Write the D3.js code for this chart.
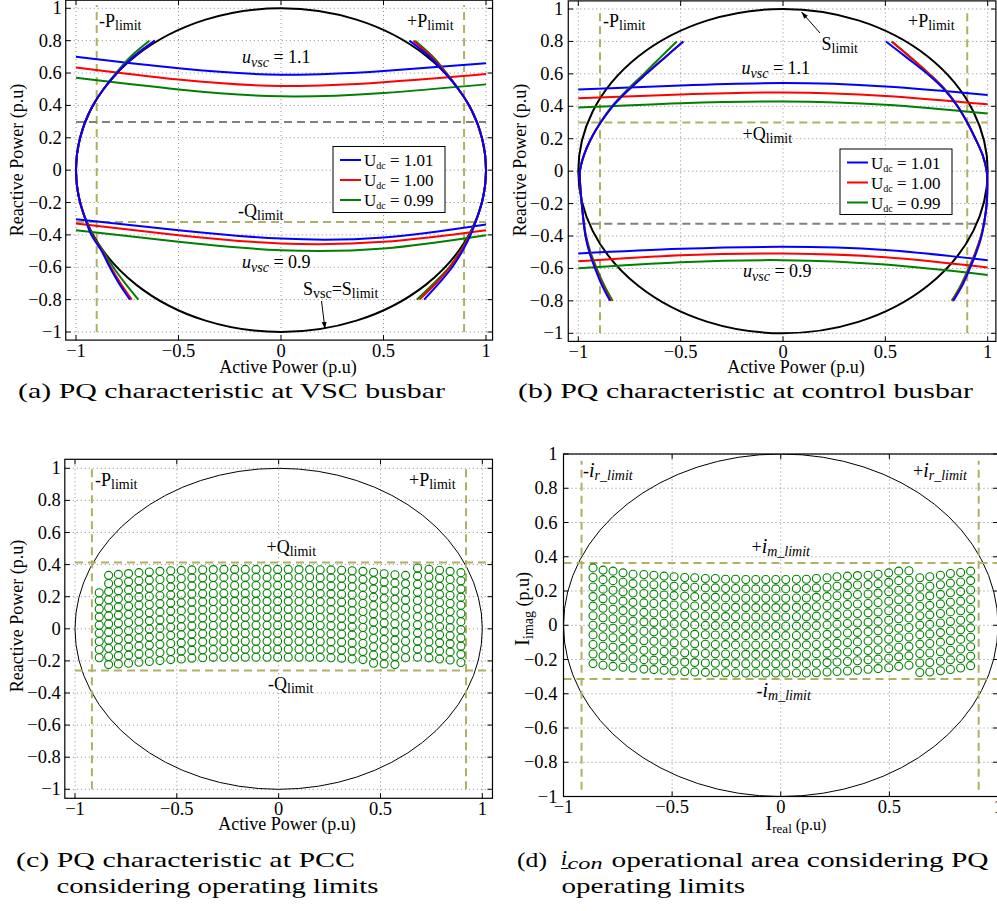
<!DOCTYPE html>
<html><head><meta charset="utf-8">
<script src="https://cdn.jsdelivr.net/npm/d3@7/dist/d3.min.js"></script>
<style>
body{margin:0;background:#fff}
svg{display:block}
text{font-family:"Liberation Serif","Times New Roman",serif;fill:#000}
</style></head>
<body><svg id="chart" width="997" height="911"></svg>
<script>
// ================= DATA =================
const tickP = [-1, -0.5, 0, 0.5, 1];
const tickPLabels = ["\u22121", "\u22120.5", "0", "0.5", "1"];
const tickQ = [-1, -0.8, -0.6, -0.4, -0.2, 0, 0.2, 0.4, 0.6, 0.8, 1];
const tickQLabels = ["\u22121", "\u22120.8", "\u22120.6", "\u22120.4", "\u22120.2", "0", "0.2", "0.4", "0.6", "0.8", "1"];
const udcLabels = ["1.01", "1.00", "0.99"];

// u_vsc curves, sampled at these active-power values
const pSample = [-1, -0.5, 0, 0.5, 1];
// panel (a) VSC busbar
const aHi101 = [0.70, 0.629, 0.589, 0.612, 0.66];
const aHi100 = [0.635, 0.56, 0.52, 0.543, 0.594];
const aHi099 = [0.571, 0.499, 0.456, 0.477, 0.53];
const aLo101 = [-0.303, -0.371, -0.423, -0.416, -0.336];
const aLo100 = [-0.33, -0.402, -0.453, -0.443, -0.371];
const aLo099 = [-0.371, -0.443, -0.495, -0.484, -0.402];
// panel (b) control busbar
const bHi101 = [0.503, 0.528, 0.543, 0.522, 0.47];
const bHi100 = [0.45, 0.472, 0.485, 0.464, 0.412];
const bHi099 = [0.392, 0.419, 0.429, 0.409, 0.355];
const bLo101 = [-0.508, -0.479, -0.467, -0.487, -0.549];
const bLo100 = [-0.555, -0.518, -0.508, -0.531, -0.594];
const bLo099 = [-0.599, -0.562, -0.549, -0.576, -0.64];

// side curves, sampled at these reactive-power values
const qSide = [0.8, 0.7, 0.6, 0.5, 0.4, 0.3, 0.2, 0.1, 0, -0.1, -0.2, -0.3, -0.4, -0.5, -0.6, -0.7, -0.8];
const aLeft101  = [-0.615,-0.72,-0.80,-0.866,-0.918,-0.955,-0.98,-0.995,-1.0,-0.995,-0.98,-0.955,-0.925,-0.875,-0.835,-0.79,-0.737];
const aLeft100  = [-0.615,-0.72,-0.80,-0.866,-0.918,-0.955,-0.98,-0.995,-1.0,-0.995,-0.98,-0.955,-0.923,-0.872,-0.83,-0.782,-0.728];
const aLeft099  = [-0.642,-0.735,-0.805,-0.866,-0.918,-0.955,-0.98,-0.995,-1.0,-0.995,-0.98,-0.955,-0.92,-0.868,-0.818,-0.76,-0.696];
const aRight101 = [0.626,0.725,0.80,0.866,0.918,0.955,0.98,0.995,1.0,0.995,0.98,0.955,0.925,0.885,0.835,0.77,0.698];
const aRight100 = [0.645,0.735,0.805,0.866,0.918,0.955,0.98,0.995,1.0,0.995,0.98,0.955,0.922,0.878,0.825,0.755,0.675];
const aRight099 = [0.654,0.742,0.808,0.866,0.918,0.955,0.98,0.995,1.0,0.995,0.98,0.955,0.92,0.875,0.82,0.745,0.662];
const bLeft101  = [-0.487,-0.578,-0.668,-0.755,-0.832,-0.891,-0.938,-0.972,-0.992,-0.99,-0.983,-0.975,-0.965,-0.946,-0.918,-0.886,-0.845];
const bLeft100  = [-0.487,-0.578,-0.669,-0.756,-0.833,-0.891,-0.938,-0.972,-0.992,-0.99,-0.983,-0.975,-0.964,-0.944,-0.915,-0.882,-0.84];
const bLeft099  = [-0.519,-0.600,-0.680,-0.762,-0.836,-0.892,-0.938,-0.972,-0.992,-0.99,-0.983,-0.975,-0.962,-0.94,-0.91,-0.875,-0.832];
const bRight101 = [0.503,0.605,0.705,0.79,0.852,0.90,0.94,0.975,0.995,0.998,0.995,0.985,0.97,0.945,0.913,0.878,0.832];
const bRight100 = [0.531,0.624,0.713,0.793,0.853,0.90,0.94,0.975,0.995,0.998,0.995,0.985,0.968,0.942,0.91,0.875,0.828];
const bRight099 = [0.531,0.626,0.715,0.795,0.854,0.90,0.94,0.975,0.995,0.998,0.995,0.985,0.967,0.94,0.906,0.87,0.824];

// operating limits [Pmin, Pmax, Qmax, Qmin]
const limA = [-0.899, 0.893, 0.297, -0.32];
const limB = [-0.894, 0.90, 0.30, -0.324];
const limC = [-0.917, 0.92, 0.4125, -0.26];
const limD = [-0.917, 0.911, 0.364, -0.314];

// panel (c) operating points: columns of circles
const cColP   = [-0.881,-0.835,-0.787,-0.737,-0.686,-0.635,-0.583,-0.530,-0.478,-0.426,-0.373,-0.321,-0.269,-0.216,-0.164,-0.111,-0.057,-0.005,0.047,0.100,0.152,0.204,0.257,0.309,0.361,0.414,0.466,0.518,0.571,0.623,0.682,0.738,0.790,0.842,0.895];
const cColTop = [0.225,0.333,0.339,0.344,0.35,0.354,0.358,0.362,0.364,0.367,0.368,0.369,0.37,0.37,0.37,0.37,0.37,0.37,0.37,0.369,0.369,0.368,0.367,0.365,0.362,0.358,0.352,0.343,0.337,0.333,0.379,0.371,0.365,0.358,0.35];
const cColBot = [-0.18,-0.223,-0.219,-0.215,-0.208,-0.204,-0.198,-0.192,-0.188,-0.183,-0.18,-0.178,-0.177,-0.177,-0.177,-0.177,-0.177,-0.177,-0.177,-0.177,-0.177,-0.178,-0.18,-0.183,-0.188,-0.192,-0.215,-0.219,-0.223,-0.18,-0.177,-0.181,-0.188,-0.194,-0.21];
const cRowStep = 0.05;
// panel (d) operating points
const dColI   = [-0.864,-0.818,-0.772,-0.726,-0.680,-0.630,-0.584,-0.537,-0.491,-0.442,-0.396,-0.347,-0.301,-0.254,-0.208,-0.161,-0.115,-0.069,-0.023,0.023,0.072,0.118,0.164,0.213,0.259,0.307,0.353,0.402,0.448,0.497,0.543,0.590,0.640,0.686,0.735,0.781,0.828,0.874];
const dColTop = [0.335,0.322,0.316,0.306,0.298,0.296,0.292,0.287,0.283,0.279,0.277,0.273,0.273,0.269,0.269,0.267,0.267,0.267,0.267,0.267,0.269,0.269,0.273,0.277,0.283,0.287,0.29,0.292,0.298,0.306,0.316,0.318,0.277,0.283,0.292,0.302,0.308,0.316];
const dColBot = [-0.224,-0.234,-0.24,-0.245,-0.25,-0.256,-0.259,-0.263,-0.267,-0.27,-0.273,-0.275,-0.277,-0.277,-0.279,-0.279,-0.279,-0.279,-0.279,-0.279,-0.279,-0.279,-0.277,-0.273,-0.27,-0.267,-0.263,-0.257,-0.253,-0.248,-0.24,-0.234,-0.276,-0.273,-0.266,-0.258,-0.25,-0.236];
const dRowStep = 0.055;

// ================= DRAWING =================
const svg = d3.select("#chart");
const OLIVE = "#b0b064", GREYD = "#808080";
const COLORS = ["#0000ff", "#ff0000", "#008000"];
const TICKFS = 18.5;

const defs = svg.append("defs");
defs.append("marker").attr("id","arrow").attr("viewBox","0 0 10 10").attr("refX",10).attr("refY",5)
  .attr("markerWidth",7).attr("markerHeight",7).attr("orient","auto-start-reverse")
  .append("path").attr("d","M0,1.5 L10,5 L0,8.5 Z").attr("fill","#000");

function rich(g, x, y, parts, size, anchor) {
  const t = g.append("text").attr("x", x).attr("y", y).attr("font-size", size || 18);
  if (anchor) t.attr("text-anchor", anchor);
  let shift = 0;
  parts.forEach(p => {
    const ts = t.append("tspan").text(p.t);
    const target = p.sub ? (p.dy || 4) : 0;
    if (target !== shift) ts.attr("dy", target - shift);
    shift = target;
    if (p.sub) ts.attr("font-size", p.size || 13);
    else if (p.size) ts.attr("font-size", p.size);
    if (p.it) ts.attr("font-style", "italic");
  });
  return t;
}

function panel(cfg) {
  const x = d3.scaleLinear().domain([-1, 1]).range(cfg.xr);
  const y = d3.scaleLinear().domain([-1, 1]).range(cfg.yr);
  const X0 = x(cfg.bx[0]), X1 = x(cfg.bx[1]), Y0 = y(cfg.by[0]), Y1 = y(cfg.by[1]);
  const g = svg.append("g");
  defs.append("clipPath").attr("id", "clip" + cfg.name).append("rect")
    .attr("x", X0).attr("y", Y1).attr("width", X1 - X0).attr("height", Y0 - Y1);
  // grid
  g.selectAll(".gv").data(tickP).join("line").attr("x1", d => x(d)).attr("x2", d => x(d))
    .attr("y1", Y0).attr("y2", Y1).attr("stroke", "#8a8a8a").attr("stroke-width", 1).attr("stroke-dasharray", "1,3");
  g.selectAll(".gh").data(tickQ).join("line").attr("y1", d => y(d)).attr("y2", d => y(d))
    .attr("x1", X0).attr("x2", X1).attr("stroke", "#8a8a8a").attr("stroke-width", 1).attr("stroke-dasharray", "1,3");
  // ticks inside
  const tl = 5;
  tickP.forEach(d => {
    g.append("line").attr("x1", x(d)).attr("x2", x(d)).attr("y1", Y0).attr("y2", Y0 - tl).attr("stroke", "#000");
    g.append("line").attr("x1", x(d)).attr("x2", x(d)).attr("y1", Y1).attr("y2", Y1 + tl).attr("stroke", "#000");
  });
  tickQ.forEach(d => {
    g.append("line").attr("y1", y(d)).attr("y2", y(d)).attr("x1", X0).attr("x2", X0 + tl).attr("stroke", "#000");
    g.append("line").attr("y1", y(d)).attr("y2", y(d)).attr("x1", X1).attr("x2", X1 - tl).attr("stroke", "#000");
  });
  // tick labels
  g.selectAll(".xl").data(tickP).join("text").attr("x", d => x(d)).attr("y", cfg.xlabY)
    .attr("text-anchor", "middle").attr("font-size", TICKFS).text((d, i) => tickPLabels[i]);
  g.selectAll(".yl").data(tickQ).join("text").attr("x", X0 - cfg.ylabGap).attr("y", d => y(d) + 6)
    .attr("text-anchor", "end").attr("font-size", TICKFS).text((d, i) => tickQLabels[i]);
  const plot = g.append("g").attr("clip-path", "url(#clip" + cfg.name + ")");
  return { x, y, g, plot, X0, X1, Y0, Y1 };
}

function limits(P, lim, vSpan, hSpan, hColors) {
  const dash = "8,5";
  [lim[0], lim[1]].forEach(v => {
    P.plot.append("line").attr("x1", P.x(v)).attr("x2", P.x(v)).attr("y1", P.y(vSpan[0])).attr("y2", P.y(vSpan[1]))
      .attr("stroke", OLIVE).attr("stroke-width", 2).attr("stroke-dasharray", dash);
  });
  [lim[2], lim[3]].forEach((v, i) => {
    P.plot.append("line").attr("y1", P.y(v)).attr("y2", P.y(v)).attr("x1", P.x(hSpan[0])).attr("x2", P.x(hSpan[1]))
      .attr("stroke", hColors[i]).attr("stroke-width", 2).attr("stroke-dasharray", dash);
  });
}

function frame(P) {
  P.g.append("rect").attr("x", P.X0).attr("y", P.Y1).attr("width", P.X1 - P.X0).attr("height", P.Y0 - P.Y1)
    .attr("fill", "none").attr("stroke", "#000").attr("stroke-width", 1.2);
}

function unitCircle(P, w) {
  P.plot.append("ellipse").attr("cx", P.x(0)).attr("cy", P.y(0))
    .attr("rx", P.x(1) - P.x(0)).attr("ry", P.y(0) - P.y(1))
    .attr("fill", "none").attr("stroke", "#000").attr("stroke-width", w);
}

function hCurves(P, sets) {
  const line = d3.line().x(d => P.x(d[0])).y(d => P.y(d[1])).curve(d3.curveNatural);
  sets.slice().reverse().forEach((s, i) => {
    const ci = sets.length - 1 - i;
    P.plot.append("path").attr("d", line(pSample.map((p, k) => [p, s[k]])))
      .attr("fill", "none").attr("stroke", COLORS[ci % 3]).attr("stroke-width", 2);
  });
}
function sCurves(P, sets) {
  const line = d3.line().x(d => P.x(d[0])).y(d => P.y(d[1])).curve(d3.curveCatmullRom);
  sets.slice().reverse().forEach((s, i) => {
    const ci = sets.length - 1 - i;
    P.plot.append("path").attr("d", line(qSide.map((q, k) => [s[k], q])))
      .attr("fill", "none").attr("stroke", COLORS[ci % 3]).attr("stroke-width", 2);
  });
}

function legend(P, x0, y0, w, h) {
  const lg = P.g.append("g");
  lg.append("rect").attr("x", x0).attr("y", y0).attr("width", w).attr("height", h)
    .attr("fill", "#fff").attr("stroke", "#000").attr("stroke-width", 1);
  udcLabels.forEach((lab, i) => {
    const yy = y0 + 13.5 + i * 20;
    lg.append("line").attr("x1", x0 + 7).attr("x2", x0 + 28).attr("y1", yy).attr("y2", yy)
      .attr("stroke", COLORS[i]).attr("stroke-width", 2);
    rich(lg, x0 + 31, yy + 6, [{ t: "U" }, { t: "dc", sub: true, size: 10, dy: 3 }, { t: " = " + lab }], 17);
  });
}

// ---------- Panel (a) ----------
const A = panel({ name: "A", xr: [76, 486], yr: [332, 8.3], bx: [-1.05, 1.032], by: [-1.05, 1.05], xlabY: 357, ylabGap: 4 });
limits(A, limA, [-1, 1.02], [-1, 1], [GREYD, OLIVE]);
unitCircle(A, 2);
hCurves(A, [aHi101, aHi100, aHi099]);
hCurves(A, [aLo101, aLo100, aLo099]);
sCurves(A, [aLeft101, aLeft100, aLeft099]);
sCurves(A, [aRight101, aRight100, aRight099]);
frame(A);
legend(A, 333, 146.5, 112, 66);
rich(A.g, 99, 27, [{ t: "-P" }, { t: "limit", sub: true, size: 14, dy: 3 }]);
rich(A.g, 407, 27, [{ t: "+P" }, { t: "limit", sub: true, size: 14, dy: 3 }]);
rich(A.g, 242, 63, [{ t: "u", it: true }, { t: "vsc", it: true, sub: true, size: 14 }, { t: " = 1.1" }]);
rich(A.g, 238, 216.5, [{ t: "-Q" }, { t: "limit", sub: true, size: 14, dy: 3 }]);
rich(A.g, 242, 268, [{ t: "u", it: true }, { t: "vsc", it: true, sub: true, size: 14 }, { t: " = 0.9" }]);
rich(A.g, 303, 295, [{ t: "S" }, { t: "vsc", sub: true, size: 14, dy: 3 }, { t: "=S" }, { t: "limit", sub: true, size: 14, dy: 3 }]);
A.g.append("line").attr("x1", 321.5).attr("y1", 301).attr("x2", 325).attr("y2", 329)
  .attr("stroke", "#000").attr("stroke-width", 1).attr("marker-end", "url(#arrow)");
A.g.append("text").attr("x", 288).attr("y", 373).attr("text-anchor", "middle").attr("font-size", 18).text("Active Power (p.u)");
A.g.append("text").attr("transform", "translate(22.5,160) rotate(-90)").attr("text-anchor", "middle").attr("font-size", 18).text("Reactive Power (p.u)");

// ---------- Panel (b) ----------
const B = panel({ name: "B", xr: [578.3, 987.7], yr: [333.3, 9], bx: [-1.049, 1.04], by: [-1.05, 1.05], xlabY: 358, ylabGap: 5 });
limits(B, limB, [-1, 1.0], [-1, 1], [OLIVE, GREYD]);
unitCircle(B, 2);
hCurves(B, [bHi101, bHi100, bHi099]);
hCurves(B, [bLo101, bLo100, bLo099]);
sCurves(B, [bLeft101, bLeft100, bLeft099]);
sCurves(B, [bRight101, bRight100, bRight099]);
frame(B);
legend(B, 840, 149, 112, 65.5);
rich(B.g, 603, 27, [{ t: "-P" }, { t: "limit", sub: true, size: 14, dy: 3 }]);
rich(B.g, 908, 27, [{ t: "+P" }, { t: "limit", sub: true, size: 14, dy: 3 }]);
rich(B.g, 821.5, 50, [{ t: "S" }, { t: "limit", sub: true, size: 14, dy: 3 }]);
B.g.append("line").attr("x1", 820).attr("y1", 33).attr("x2", 801.5).attr("y2", 12)
  .attr("stroke", "#000").attr("stroke-width", 1).attr("marker-end", "url(#arrow)");
rich(B.g, 741.5, 74, [{ t: "u", it: true }, { t: "vsc", it: true, sub: true, size: 14 }, { t: " = 1.1" }]);
rich(B.g, 742.5, 140, [{ t: "+Q" }, { t: "limit", sub: true, size: 14, dy: 3 }]);
rich(B.g, 743, 276.5, [{ t: "u", it: true }, { t: "vsc", it: true, sub: true, size: 14 }, { t: " = 0.9" }]);
B.g.append("text").attr("x", 796).attr("y", 373).attr("text-anchor", "middle").attr("font-size", 18).text("Active Power (p.u)");
B.g.append("text").attr("transform", "translate(526,160) rotate(-90)").attr("text-anchor", "middle").attr("font-size", 18).text("Reactive Power (p.u)");

// ---------- Panel (c) ----------
function circleCols(P, colX, tops, bots, step, r) {
  const pts = [];
  colX.forEach((cx, i) => {
    const n = Math.round((tops[i] - bots[i]) / step) + 1;
    for (let k = 0; k < n; k++) pts.push([cx, tops[i] - (tops[i] - bots[i]) * k / (n - 1)]);
  });
  P.plot.selectAll(".pt").data(pts).join("circle").attr("cx", d => P.x(d[0])).attr("cy", d => P.y(d[1]))
    .attr("r", r).attr("fill", "none").attr("stroke", "#008000").attr("stroke-width", 1.1);
}
const C = panel({ name: "C", xr: [75, 482.3], yr: [789.3, 468.3], bx: [-1.05, 1.05], by: [-1.056, 1.056], xlabY: 815, ylabGap: 4 });
unitCircle(C, 1);
limits(C, limC, [-1, 1], [-1, 1.05], [OLIVE, OLIVE]);
circleCols(C, cColP, cColTop, cColBot, cRowStep, 4);
frame(C);
rich(C.g, 95, 486, [{ t: "-P" }, { t: "limit", sub: true, size: 14, dy: 3 }]);
rich(C.g, 409, 486, [{ t: "+P" }, { t: "limit", sub: true, size: 14, dy: 3 }]);
rich(C.g, 266.5, 553, [{ t: "+Q" }, { t: "limit", sub: true, size: 14, dy: 3 }]);
rich(C.g, 268, 690, [{ t: "-Q" }, { t: "limit", sub: true, size: 14, dy: 3 }]);
C.g.append("text").attr("x", 287).attr("y", 830).attr("text-anchor", "middle").attr("font-size", 18).text("Active Power (p.u)");
C.g.append("text").attr("transform", "translate(22.5,616) rotate(-90)").attr("text-anchor", "middle").attr("font-size", 18).text("Reactive Power (p.u)");

// ---------- Panel (d) ----------
const D = panel({ name: "D", xr: [563.5, 998], yr: [796.5, 454], bx: [-1, 1], by: [-1, 1], xlabY: 813, ylabGap: 6 });
unitCircle(D, 1);
limits(D, limD, [-0.96, 0.96], [-1, 1], [OLIVE, OLIVE]);
circleCols(D, dColI, dColTop, dColBot, dRowStep, 4);
frame(D);
rich(D.g, 583, 476.5, [{ t: "-" }, { t: "i", it: true, size: 20 }, { t: "r_limit", it: true, sub: true, size: 14, dy: 3 }], 18);
rich(D.g, 913, 476.5, [{ t: "+" }, { t: "i", it: true, size: 20 }, { t: "r_limit", it: true, sub: true, size: 14, dy: 3 }], 18);
rich(D.g, 751.5, 553, [{ t: "+" }, { t: "i", it: true, size: 20 }, { t: "m_limit", it: true, sub: true, size: 14, dy: 3 }], 18);
rich(D.g, 756.5, 696.5, [{ t: "-" }, { t: "i", it: true, size: 20 }, { t: "m_limit", it: true, sub: true, size: 14, dy: 3 }], 18);
rich(D.g, 796, 830, [{ t: "I", size: 20 }, { t: "real", sub: true, size: 13, dy: 3 }, { t: " (p.u)", size: 16 }], 18, "middle");
D.g.append("text").attr("transform", "translate(529,609) rotate(-90)").attr("text-anchor", "middle")
  .call(t => {
    t.append("tspan").attr("font-size", 21).text("I");
    t.append("tspan").attr("font-size", 14).attr("dy", 4).text("imag");
    t.append("tspan").attr("font-size", 18).attr("dy", -4).text(" (p.u)");
  });

// ---------- Captions ----------
function cap(x, y, str, w) {
  svg.append("text").attr("x", x).attr("y", y).attr("font-size", 22)
    .attr("textLength", w).attr("lengthAdjust", "spacingAndGlyphs").text(str);
}
cap(18, 398, "(a) PQ characteristic at VSC busbar", 427);
cap(518, 398, "(b) PQ characteristic at control busbar", 455);
cap(16, 867, "(c) PQ characteristic at PCC", 339);
cap(56.5, 893, "considering operating limits", 322);
cap(517, 867, "(d)", 30);
svg.append("text").attr("x", 561).attr("y", 865).attr("font-size", 22).attr("font-style", "italic").text("i");
svg.append("text").attr("x", 567.5).attr("y", 869).attr("font-size", 17).attr("font-style", "italic")
  .attr("textLength", 35).attr("lengthAdjust", "spacingAndGlyphs").text("con");
svg.append("line").attr("x1", 561).attr("x2", 568.5).attr("y1", 868.5).attr("y2", 868.5).attr("stroke", "#000").attr("stroke-width", 1);
cap(611.5, 867, "operational area considering PQ", 377);
cap(561.5, 893, "operating limits", 183.5);
</script>
</body></html>
